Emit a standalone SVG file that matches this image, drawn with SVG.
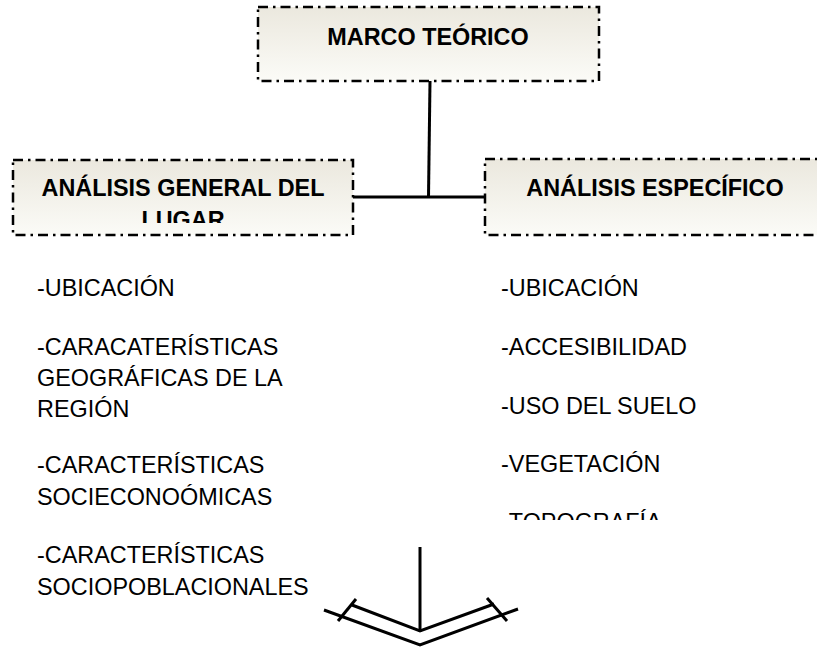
<svg xmlns="http://www.w3.org/2000/svg" width="817" height="647" viewBox="0 0 817 647">
<style>
.box{stroke:#000;stroke-width:2.5;stroke-dasharray:10 5 2.5 5;fill:url(#g)}
.h{font-family:"Liberation Sans",Arial,sans-serif;font-weight:bold;font-size:23.4px;fill:#000;text-anchor:middle}
.t{font-family:"Liberation Sans",Arial,sans-serif;font-size:23.4px;fill:#000}
.ln{stroke:#000;stroke-width:3;fill:none}
</style>
<defs>
<linearGradient id="g" x1="0" y1="0" x2="0" y2="1">
<stop offset="0" stop-color="#ebe8de"/>
<stop offset="1" stop-color="#fbfbf7"/>
</linearGradient>
<clipPath id="cl"><rect x="14" y="162" width="338" height="61"/></clipPath>
<clipPath id="cr"><rect x="480" y="260" width="337" height="260"/></clipPath>
</defs>
<rect width="817" height="647" fill="#fff"/>
<g id="connectors">
<line class="ln" x1="430" y1="81" x2="428.5" y2="197"/>
<line class="ln" x1="353" y1="197" x2="485" y2="197"/>
<line class="ln" x1="420" y1="547" x2="420" y2="632"/>
<polyline class="ln" points="352,605 420,631 494,604"/>
<polyline class="ln" points="324,610 420,645 518,609"/>
<line class="ln" x1="356" y1="599" x2="338" y2="621"/>
<line class="ln" x1="487" y1="598" x2="507" y2="621"/>
</g>
<g id="marco">
<rect class="box" x="258" y="7" width="341" height="74"/>
<text class="h" x="428" y="45">MARCO TEÓRICO</text>
</g>
<g id="general">
<rect class="box" x="13" y="160" width="340" height="75"/>
<g clip-path="url(#cl)">
<text class="h" x="183" y="196">ANÁLISIS GENERAL DEL</text>
<text class="h" x="183" y="228">LUGAR</text>
</g>
</g>
<g id="especifico">
<rect class="box" x="485" y="159" width="340" height="76"/>
<text class="h" x="655" y="196">ANÁLISIS ESPECÍFICO</text>
</g>
<g id="lista-general">
<text class="t" x="37" y="296">-UBICACIÓN</text>
<text class="t" x="37" y="355">-CARACATERÍSTICAS</text>
<text class="t" x="37" y="386">GEOGRÁFICAS DE LA</text>
<text class="t" x="37" y="417">REGIÓN</text>
<text class="t" x="37" y="473">-CARACTERÍSTICAS</text>
<text class="t" x="37" y="505">SOCIECONOÓMICAS</text>
<text class="t" x="37" y="563">-CARACTERÍSTICAS</text>
<text class="t" x="37" y="595">SOCIOPOBLACIONALES</text>
</g>
<g id="lista-especifico" clip-path="url(#cr)">
<text class="t" x="501" y="296">-UBICACIÓN</text>
<text class="t" x="501" y="355">-ACCESIBILIDAD</text>
<text class="t" x="501" y="414">-USO DEL SUELO</text>
<text class="t" x="501" y="472">-VEGETACIÓN</text>
<text class="t" x="501" y="530">-TOPOGRAFÍA</text>
</g>
</svg>
